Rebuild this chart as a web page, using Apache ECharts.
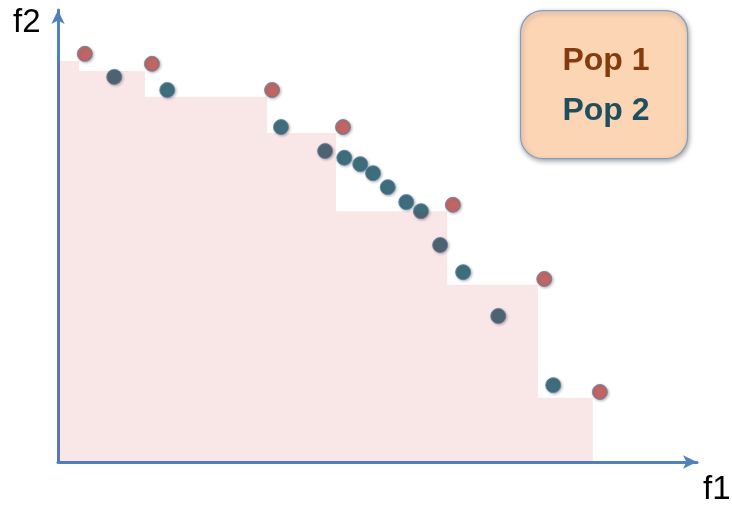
<!DOCTYPE html>
<html>
<head>
<meta charset="utf-8">
<script src="https://cdn.jsdelivr.net/npm/echarts@6/dist/echarts.min.js"></script>
<style>html,body{margin:0;padding:0;background:#fff}#c{width:732px;height:505px}</style>
</head>
<body>
<div id="c"></div>
<script>
// Pop 1 (red) points: [f1, f2]
var pop1X = [4.2, 14.7, 33.5, 44.6, 61.8, 76.1, 84.8];
var pop1Y = [90.3, 88.1, 82.3, 74.1, 56.9, 40.5, 15.5];
// Pop 2 (teal) points
var pop2X = [8.8, 17.1, 34.9, 41.8, 44.8, 47.3, 49.3, 51.6, 54.5, 56.8, 59.8, 63.4, 68.9, 77.5];
var pop2Y = [85.2, 82.3, 74.1, 68.8, 67.3, 65.9, 63.9, 60.8, 57.5, 55.5, 48.0, 42.0, 32.3, 17.0];
// Shaded dominated region: step right edges and levels
var stepX = [3.3, 13.6, 32.7, 43.5, 60.9, 75.1, 83.7];
var stepY = [88.7, 86.5, 80.8, 72.8, 55.5, 39.2, 14.2];
var legendNames = ['Pop 1', 'Pop 2'];

function pairs(xs, ys){ return xs.map(function(x,i){ return [x, ys[i]]; }); }
var stepData = [];
var prev = 0;
for (var i = 0; i < stepX.length; i++) {
  stepData.push([prev, stepY[i]]);
  stepData.push([stepX[i], stepY[i]]);
  prev = stepX[i];
}

var chart = echarts.init(document.getElementById('c'), null, {renderer: 'canvas'});
var axisCommon = {
  type: 'value', min: 0, max: 100,
  axisLine: {show: true, lineStyle: {color: '#4f81bd', width: 3}, symbol: ['none', 'arrow'], symbolSize: [10, 14], symbolOffset: [0, 0]},
  axisTick: {show: false}, axisLabel: {show: false}, splitLine: {show: false}
};
var dotStyle = function(c){ return {color: c, borderColor: '#5b7fae', borderWidth: 1, shadowColor: 'rgba(0,0,0,0.35)', shadowBlur: 3, shadowOffsetX: 1, shadowOffsetY: 1}; };
chart.setOption({
  animation: false,
  grid: {left: 58, right: 35, top: 10, bottom: 43},
  xAxis: axisCommon,
  yAxis: axisCommon,
  series: [
    {type: 'scatter', name: legendNames[0], data: pairs(pop1X, pop1Y), symbolSize: 15, itemStyle: dotStyle('#c0504d'), z: 2},
    {type: 'scatter', name: legendNames[1], data: pairs(pop2X, pop2Y), symbolSize: 15, itemStyle: dotStyle('#1f5a6b'), z: 2},
    {type: 'line', data: stepData, symbol: 'none', lineStyle: {width: 0, opacity: 0}, areaStyle: {color: 'rgba(200,30,40,0.15)', origin: 'start'}, z: 3, silent: true}
  ],
  graphic: [
    {type: 'text', left: 13, top: 6, style: {text: 'f2', font: '33px "Liberation Sans", Arial, sans-serif', fill: '#000'}},
    {type: 'text', left: 703, top: 473, style: {text: 'f1', font: '33px "Liberation Sans", Arial, sans-serif', fill: '#000'}},
    {type: 'rect', left: 520, top: 10, shape: {width: 167, height: 148, r: 22}, style: {fill: '#fcd5b5', stroke: '#7f9fc6', lineWidth: 1.2, shadowColor: 'rgba(0,0,0,0.35)', shadowBlur: 5, shadowOffsetX: 1, shadowOffsetY: 2}, z: 10},
    {type: 'text', x: 606, y: 61, z: 11, style: {text: legendNames[0], font: 'bold 32px "Liberation Sans", Arial, sans-serif', fill: '#843c0c', align: 'center', verticalAlign: 'middle'}},
    {type: 'text', x: 606, y: 111, z: 11, style: {text: legendNames[1], font: 'bold 32px "Liberation Sans", Arial, sans-serif', fill: '#1f4e5f', align: 'center', verticalAlign: 'middle'}}
  ]
});
</script>
</body>
</html>
